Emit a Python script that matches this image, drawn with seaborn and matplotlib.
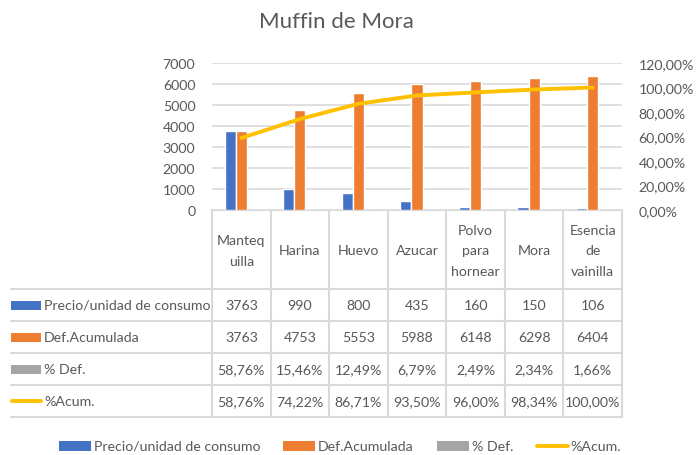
import matplotlib
matplotlib.use("Agg")
import numpy as np
import pandas as pd
import seaborn as sns
import matplotlib.pyplot as plt
from matplotlib.patches import Rectangle

# Data
ingredientes = ["Manteq\nuilla", "Harina", "Huevo", "Azucar", "Polvo\npara\nhornear", "Mora", "Esencia\nde\nvainilla"]
precio = [3763, 990, 800, 435, 160, 150, 106]
def_acum = [3763, 4753, 5553, 5988, 6148, 6298, 6404]
pct_def = [58.76, 15.46, 12.49, 6.79, 2.49, 2.34, 1.66]
pct_acum = [58.76, 74.22, 86.71, 93.50, 96.00, 98.34, 100.00]
series = ["Precio/unidad de consumo", "Def.Acumulada", "% Def.", "%Acum."]
colors = ["#4472C4", "#ED7D31", "#A5A5A5", "#FFC000"]

sns.set_style("white")
plt.rcParams["font.family"] = ["Lato", "DejaVu Sans"]
txt = "#595959"
grid = "#D9D9D9"
fs = 10.2

W, H = 699, 456
fig = plt.figure(figsize=(W / 100, H / 100), dpi=100)

# Main plot area
left, right, top, bottom = 212, 622, 64, 211
ax = fig.add_axes([left / W, 1 - bottom / H, (right - left) / W, (bottom - top) / H])

df = pd.DataFrame({
    "Ingrediente": ingredientes * 3,
    "Serie": [series[0]] * 7 + [series[1]] * 7 + [series[2]] * 7,
    "Valor": precio + def_acum + [v / 100 for v in pct_def],
})
sns.barplot(data=df, x="Ingrediente", y="Valor", hue="Serie", palette=colors[:3],
            width=0.57, saturation=1, legend=False, ax=ax, zorder=3)
ax.set_xlim(-0.5, 6.5)
ax.set_ylim(0, 7000)
ax.set_yticks(range(0, 7001, 1000))
ax.yaxis.grid(True, color=grid, lw=1.2, zorder=0)
ax.set_axisbelow(True)
ax.set_xlabel("")
ax.set_ylabel("")
ax.set_xticks([])
ax.tick_params(axis="y", length=0, labelsize=fs, labelcolor=txt, pad=12)
for s in ax.spines.values():
    s.set_visible(False)

ax2 = ax.twinx()
sns.lineplot(x=np.arange(len(ingredientes)), y=np.array(pct_acum) / 100, color=colors[3],
             lw=2.8, ax=ax2, zorder=4)
ax2.set_ylim(0, 1.2)
yt = np.arange(0, 1.21, 0.2)
ax2.set_yticks(yt)
ax2.set_yticklabels([f"{v * 100:.2f}%".replace(".", ",") for v in yt])
ax2.tick_params(axis="y", length=0, labelsize=fs, labelcolor=txt, pad=12)
ax2.set_ylabel("")
for s in ax2.spines.values():
    s.set_visible(False)

fig.text(336 / W, 1 - 22 / H, "Muffin de Mora", ha="center", va="center", fontsize=16, color=txt)

# Data table overlay (pixel coordinates)
ov = fig.add_axes([0, 0, 1, 1], zorder=-1)
ov.set_xlim(0, W)
ov.set_ylim(H, 0)
ov.axis("off")

ncol = len(ingredientes)
cw = (right - left) / ncol
xb = [left + i * cw for i in range(ncol + 1)]
rows = [211, 290, 322, 354, 386, 418]
lab_x0 = 11

ov.plot([left, right], [rows[0], rows[0]], color=grid, lw=1.5)
for y in rows[1:]:
    ov.plot([lab_x0, right], [y, y], color=grid, lw=1.5)
for x in xb:
    ov.plot([x, x], [rows[0], rows[-1]], color=grid, lw=1.5)

for i, name in enumerate(ingredientes):
    ov.text(xb[i] + cw / 2, (rows[0] + rows[1]) / 2 + 1, name, ha="center", va="center",
            fontsize=fs, color=txt, linespacing=1.85)

fmt_int = lambda v: f"{v}"
fmt_pct = lambda v: f"{v:.2f}%".replace(".", ",")
table_vals = [[fmt_int(v) for v in precio], [fmt_int(v) for v in def_acum],
              [fmt_pct(v) for v in pct_def], [fmt_pct(v) for v in pct_acum]]

for r in range(4):
    yc = (rows[r + 1] + rows[r + 2]) / 2
    if r < 3:
        ov.add_patch(Rectangle((lab_x0, yc - 4.5), 30, 9, color=colors[r], lw=0))
    else:
        ov.plot([lab_x0 + 1, lab_x0 + 30], [yc, yc], color=colors[r], lw=2.8, solid_capstyle="round")
    ov.text(lab_x0 + 33, yc, series[r], ha="left", va="center", fontsize=fs, color=txt)
    for i in range(ncol):
        ov.text(xb[i] + cw / 2, yc, table_vals[r][i], ha="center", va="center", fontsize=fs, color=txt)

# Bottom legend
ly = 447
leg_x = [59, 283, 437, 535]
for k in range(4):
    x0 = leg_x[k]
    if k < 3:
        ov.add_patch(Rectangle((x0, ly - 5), 32, 10, color=colors[k], lw=0))
    else:
        ov.plot([x0 + 1.5, x0 + 33], [ly, ly], color=colors[k], lw=2.8, solid_capstyle="round")
    ov.text(x0 + 35, ly, series[k], ha="left", va="center", fontsize=fs, color=txt)

fig.savefig("out.png", dpi=100, facecolor="white")
